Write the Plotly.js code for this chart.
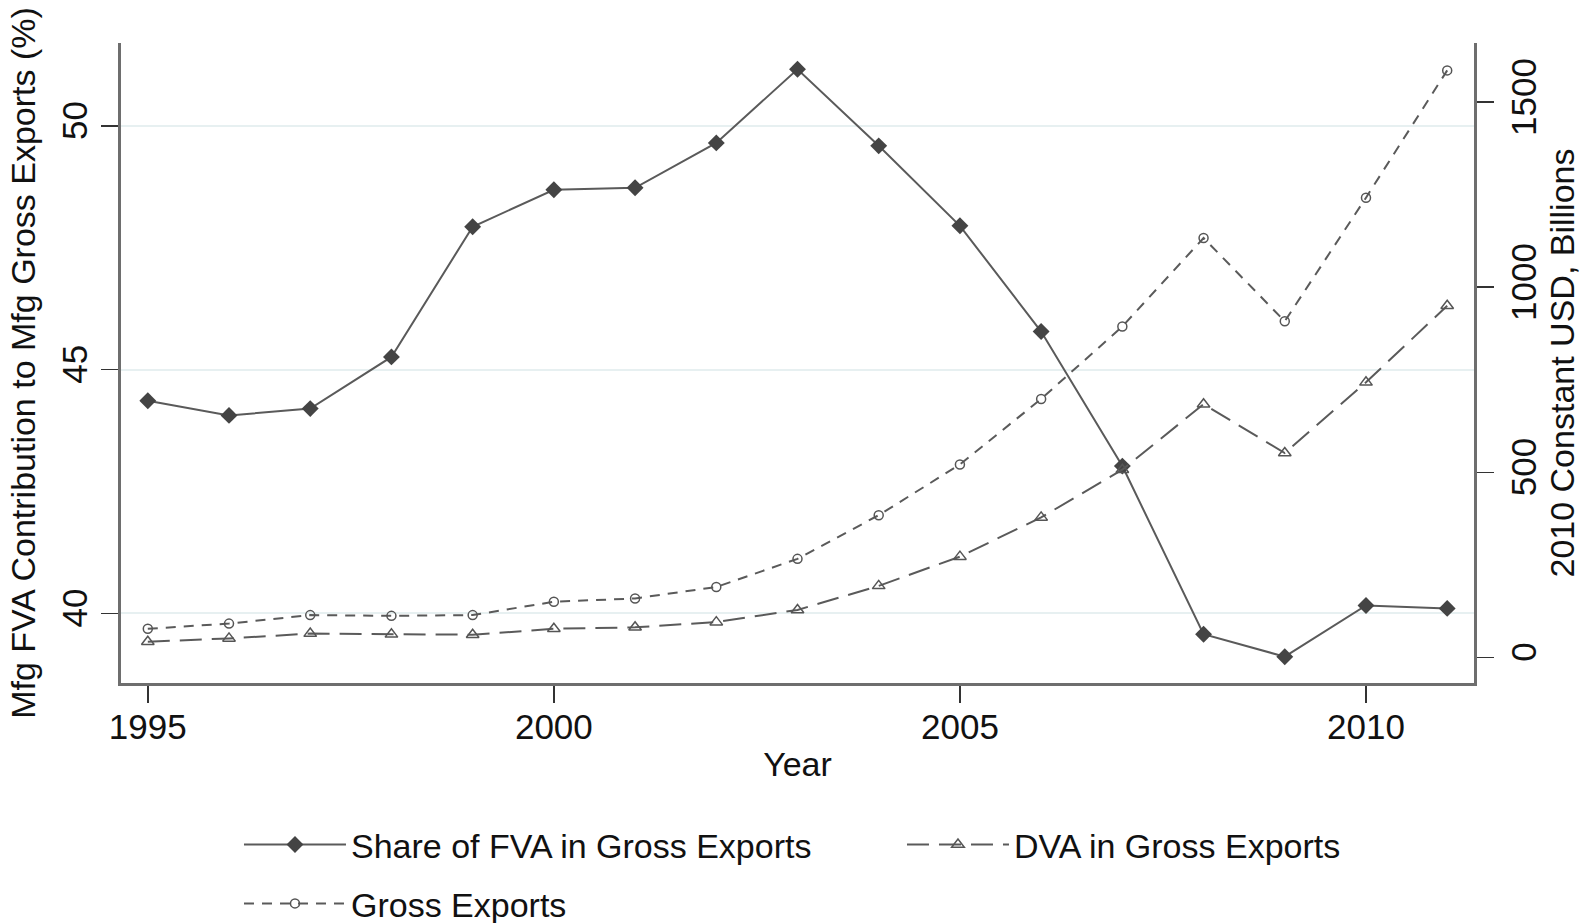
<!DOCTYPE html>
<html>
<head>
<meta charset="utf-8">
<script src="https://cdn.plot.ly/plotly-3.0.1.min.js"></script>
<style>html,body{margin:0;padding:0;background:#fff;}#chart{width:1581px;height:923px;}</style>
</head>
<body>
<div id="chart"></div>
<script>
const years = [1995,1996,1997,1998,1999,2000,2001,2002,2003,2004,2005,2006,2007,2008,2009,2010,2011];
const fvaShare = [44.36,44.06,44.20,45.26,47.93,48.69,48.73,49.65,51.16,49.59,47.95,45.78,43.02,39.57,39.11,40.16,40.10];
const dvaExports = [42,51,64,62,61,77,81,95,128,193,272,378,507,684,552,743,950];
const grossExports = [77,91,114,112,114,150,159,190,266,384,521,698,894,1133,908,1242,1586];
const xTicks = [1995,2000,2005,2010];
const yLeftTicks = [40,45,50];
const yRightTicks = [0,500,1000,1500];

const FONT = 'Liberation Sans, Arial, Helvetica, sans-serif';
const LINE = '#5a5a5a';
const FS = 34;

const traces = [
  {x: years, y: fvaShare, name: 'Share of FVA in Gross Exports', type: 'scatter', mode: 'lines+markers',
   line: {color: LINE, width: 2}, marker: {symbol: 'diamond', size: 13, color: '#444'}, yaxis: 'y', legend: 'legend'},
  {x: years, y: dvaExports, name: 'DVA in Gross Exports', type: 'scatter', mode: 'lines+markers',
   line: {color: LINE, width: 2, dash: '22px,10px'}, marker: {symbol: 'triangle-up-open', size: 11, color: '#555', line: {width: 1.5}}, yaxis: 'y2', legend: 'legend'},
  {x: years, y: grossExports, name: 'Gross Exports', type: 'scatter', mode: 'lines+markers',
   line: {color: LINE, width: 2, dash: '10px,8px'}, marker: {symbol: 'circle-open', size: 9, color: '#555', line: {width: 1.5}}, yaxis: 'y2', legend: 'legend2'}
];

const legendCommon = {orientation: 'h', xanchor: 'left', yanchor: 'middle', itemwidth: 102,
  entrywidth: 546, entrywidthmode: 'pixels', font: {family: FONT, size: FS, color: '#111'}, bgcolor: 'rgba(0,0,0,0)'};

const layout = {
  width: 1581, height: 923,
  margin: {l: 121, r: 107, t: 43, b: 240, autoexpand: false},
  paper_bgcolor: '#fff', plot_bgcolor: '#fff',
  font: {family: FONT, size: FS, color: '#111'},
  showlegend: true,
  legend: Object.assign({}, legendCommon, {x: 0.0872, y: -0.253}),
  legend2: Object.assign({}, legendCommon, {x: 0.0872, y: -0.345}),
  xaxis: {range: [1994.67, 2011.33], tickvals: xTicks, ticks: 'outside', ticklen: 17, tickwidth: 1.5, tickcolor: '#333',
          ticklabelstandoff: -6, tickfont: {size: 35},
          showline: true, linecolor: '#6e6e6e', linewidth: 3, showgrid: false, zeroline: false, automargin: false,
          title: {text: 'Year', font: {size: FS}, standoff: 8}},
  yaxis: {range: [38.57, 51.70], tickvals: yLeftTicks, ticks: 'outside', ticklen: 17, tickwidth: 1.5, tickcolor: '#333',
          tickangle: -90, tickfont: {size: 35}, showline: true, linecolor: '#6e6e6e', linewidth: 3, automargin: false,
          showgrid: true, gridcolor: '#e7f0f1', gridwidth: 2, zeroline: false,
          title: {text: 'Mfg FVA Contribution to Mfg Gross Exports (%)', font: {size: FS}, standoff: 10}},
  yaxis2: {range: [-69.5, 1660], tickvals: yRightTicks, overlaying: 'y', side: 'right', ticks: 'outside', ticklen: 17,
           tickwidth: 1.5, tickcolor: '#333', tickangle: -90, tickfont: {size: 35}, showline: true, linecolor: '#6e6e6e', linewidth: 3,
           showgrid: false, zeroline: false, automargin: false,
           title: {text: '2010 Constant USD, Billions', font: {size: FS}, standoff: 5}}
};

Plotly.newPlot('chart', traces, layout, {displayModeBar: false, staticPlot: true});
</script>
</body>
</html>
